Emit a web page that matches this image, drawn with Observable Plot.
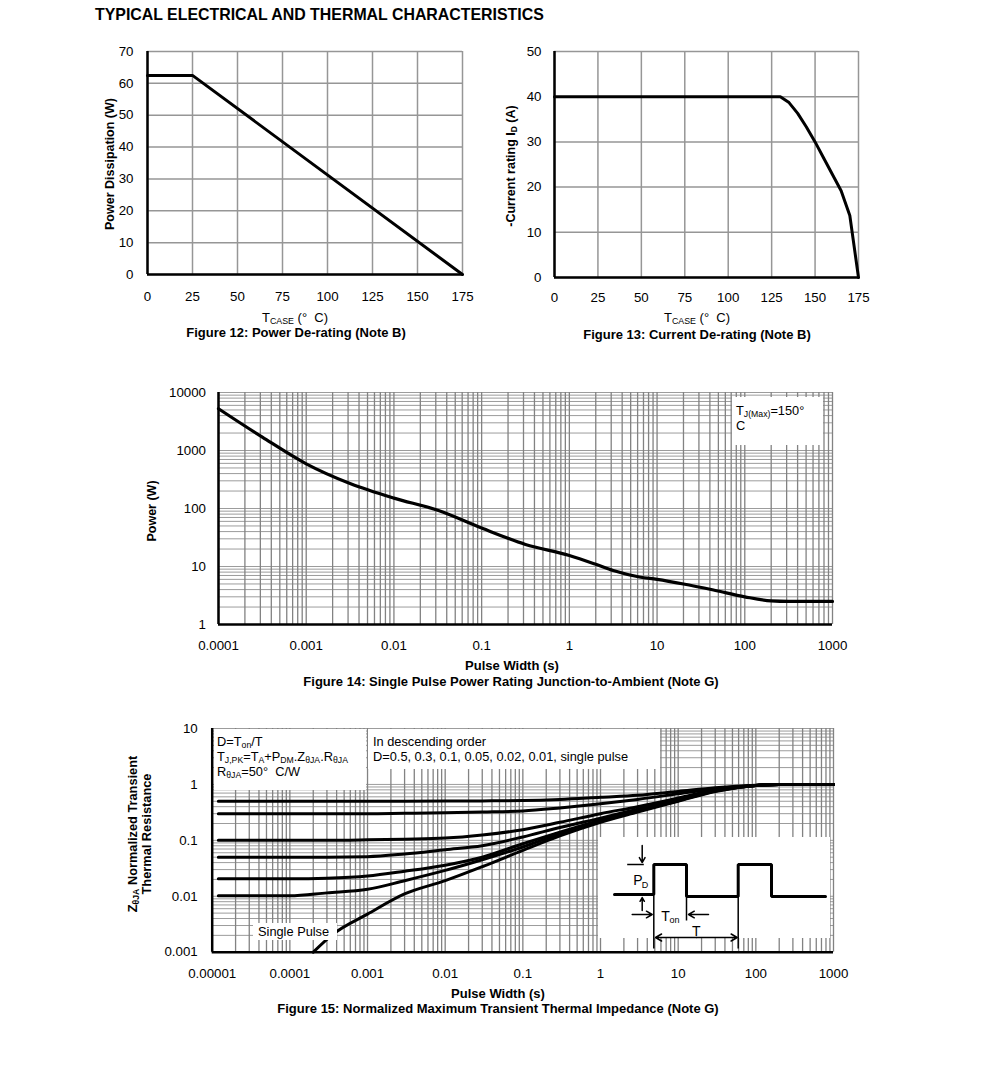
<!DOCTYPE html>
<html><head><meta charset="utf-8">
<script src="https://cdn.jsdelivr.net/npm/d3@7"></script>
<script src="https://cdn.jsdelivr.net/npm/@observablehq/plot@0.6"></script>
<style>
body{margin:0;background:#fff;}
#page{position:relative;width:991px;height:1079px;background:#fff;font-family:"Liberation Sans",Arial,Helvetica,sans-serif;color:#000;overflow:hidden}
.t{position:absolute;white-space:nowrap;line-height:1;font-size:13px}
.b{font-weight:bold}
sub{font-size:0.68em;vertical-align:-0.25em;line-height:0}
.box{position:absolute;background:#fff;font-size:12.8px;line-height:15px;white-space:nowrap;box-sizing:border-box}
</style></head><body><div id="page"></div>
<script>
// ---------------- DATA ----------------
const fig12Temp = [0, 25, 175];
const fig12Power = [62.5, 62.5, 0];
const fig12XTicks = [0, 25, 50, 75, 100, 125, 150, 175];
const fig12YTicks = [0, 10, 20, 30, 40, 50, 60, 70];

const fig13Temp = [0, 130, 135, 140, 145, 150, 155, 160, 165, 170, 175];
const fig13Current = [40, 40, 38.7, 36.3, 33.3, 30, 26.4, 22.8, 19.2, 13.7, 0];
const fig13XTicks = [0, 25, 50, 75, 100, 125, 150, 175];
const fig13YTicks = [0, 10, 20, 30, 40, 50];

const fig14Width = [1e-4, 3.16e-4, 1e-3, 3.16e-3, 0.01, 0.0316, 0.1, 0.316, 1, 2, 3.16, 6.3, 10, 20, 45, 100, 200, 316, 1000];
const fig14Power = [5250, 1700, 590, 270, 151, 93, 46, 24, 15.5, 10.9, 8.5, 6.6, 6.0, 5.0, 3.9, 3.0, 2.55, 2.5, 2.5];
const fig14XTicks = [1e-4, 1e-3, 1e-2, 0.1, 1, 10, 100, 1000];
const fig14XLabels = ["0.0001", "0.001", "0.01", "0.1", "1", "10", "100", "1000"];
const fig14YTicks = [1, 10, 100, 1000, 10000];
const fig14YLabels = ["1", "10", "100", "1000", "10000"];

const fig15Width = [1.2e-5, 1e-4, 3e-4, 1e-3, 3e-3, 0.01, 0.03, 0.1, 0.3, 1, 3, 10, 30, 100, 200, 1000];
const fig15Duty = ["0.5", "0.3", "0.1", "0.05", "0.02", "0.01"];
const fig15D050 = [0.5, 0.5, 0.5, 0.5, 0.5, 0.503, 0.507, 0.515, 0.54, 0.59, 0.64, 0.75, 0.87, 0.97, 1.0, 1.0];
const fig15D030 = [0.3, 0.3, 0.3, 0.3, 0.305, 0.31, 0.32, 0.335, 0.38, 0.45, 0.54, 0.68, 0.84, 0.96, 1.0, 1.0];
const fig15D010 = [0.1, 0.1, 0.1, 0.102, 0.105, 0.11, 0.125, 0.155, 0.21, 0.3, 0.4, 0.57, 0.8, 0.96, 1.0, 1.0];
const fig15D005 = [0.05, 0.05, 0.05, 0.051, 0.057, 0.068, 0.08, 0.115, 0.17, 0.25, 0.36, 0.53, 0.78, 0.96, 1.0, 1.0];
const fig15D002 = [0.0205, 0.0205, 0.021, 0.023, 0.028, 0.036, 0.05, 0.087, 0.14, 0.23, 0.34, 0.52, 0.77, 0.96, 1.0, 1.0];
const fig15D001 = [0.0102, 0.0102, 0.0115, 0.0133, 0.019, 0.029, 0.045, 0.076, 0.13, 0.22, 0.33, 0.51, 0.76, 0.96, 1.0, 1.0];
const fig15SingleWidth = [2e-4, 3.6e-4, 1e-3, 3e-3, 0.01, 0.032, 0.1, 0.3, 1, 3, 10, 30, 100, 200, 1000];
const fig15Single = [0.001, 0.0021, 0.0048, 0.011, 0.019, 0.035, 0.066, 0.12, 0.21, 0.32, 0.5, 0.75, 0.96, 1.0, 1.0];
const fig15XTicks = [1e-5, 1e-4, 1e-3, 1e-2, 0.1, 1, 10, 100, 1000];
const fig15XLabels = ["0.00001", "0.0001", "0.001", "0.01", "0.1", "1", "10", "100", "1000"];
const fig15YTicks = [0.001, 0.01, 0.1, 1, 10];
const fig15YLabels = ["0.001", "0.01", "0.1", "1", "10"];

// inset schematic (pulse train), in box-local units
const insetWave = [[16,57],[55.3,57],[55.3,27],[88,27],[88,59],[139.7,59],[139.7,27],[173,27],[173,59],[227,59]];
const insetThin = [[28.7,27,45.3,27],[55.3,27,55.3,111],[88,59,88,83],[139.7,27,139.7,111]];
const insetArrows = [[43.7,8,43.7,25],[43.7,73,43.7,60],[33.7,77,53.7,77],[110,77,90,77],[98,100,57,100],[98,100,138.7,100]];
const insetBig = [["P",39.5,43],["T",67,79.5],["T",97.7,94]];
const insetSmall = [["D",46.5,47.5],["on",76,83]];

// ---------------- HELPERS ----------------
const FONT = '"Liberation Sans", Arial, Helvetica, sans-serif';
const GRIDV = "#828282", GRIDH = "#9c9c9c", GRID = "#969696";
const TICKFONT = 13.3;
const page = document.getElementById("page");
const baseStyle = {fontFamily: FONT, fontSize: TICKFONT + "px", color: "#000", background: "transparent", overflow: "visible"};

function put(svg, left, top) {
  svg.style.position = "absolute";
  svg.style.left = left + "px";
  svg.style.top = top + "px";
  page.appendChild(svg);
}
function txt(html, x, y, opts = {}) {
  const d = document.createElement("div");
  d.className = "t" + (opts.bold ? " b" : "");
  d.innerHTML = html;
  if (opts.size) d.style.fontSize = opts.size + "px";
  d.style.left = x + "px";
  d.style.top = y + "px";
  const tx = opts.anchor === "start" ? "0" : "-50%";
  d.style.transform = `translate(${tx},-50%)` + (opts.rotate ? " rotate(-90deg)" : "");
  if (opts.rotate) { d.style.textAlign = "center"; d.style.lineHeight = opts.lh || "1"; }
  page.appendChild(d);
}
function box(html, left, top, w, h, padL, padT) {
  const d = document.createElement("div");
  d.className = "box";
  d.innerHTML = html;
  Object.assign(d.style, {left: left + "px", top: top + "px", width: w + "px", height: h + "px", paddingLeft: padL + "px", paddingTop: padT + "px"});
  page.appendChild(d);
}
function logGrid(lo, hi) {
  const out = [];
  for (let e = Math.round(Math.log10(lo)); e < Math.round(Math.log10(hi)); e++)
    for (let m = 1; m < 10; m++) out.push(+(m * Math.pow(10, e)).toPrecision(3));
  out.push(hi);
  return out;
}
const lbl = (ticks, labels) => d => labels[ticks.indexOf(d)];
const axisOpts = {tickSize: 0, label: null, fontSize: TICKFONT};

// ---------------- TITLE ----------------
txt("TYPICAL ELECTRICAL AND THERMAL CHARACTERISTICS", 95, 15, {anchor: "start", bold: true, size: 15.9});

// ---------------- FIGURE 12 ----------------
const fig12Data = fig12Temp.map((t, i) => ({t, p: fig12Power[i]}));
put(Plot.plot({
  width: 400, height: 270, marginLeft: 57, marginRight: 28, marginTop: 11, marginBottom: 36,
  x: {domain: [0, 175]}, y: {domain: [0, 70]}, style: baseStyle,
  marks: [
    Plot.ruleX(fig12XTicks, {stroke: GRID, strokeWidth: 1.5}),
    Plot.ruleY(fig12YTicks, {stroke: GRID, strokeWidth: 1.5}),
    Plot.ruleX([0], {stroke: "#000", strokeWidth: 2.5}),
    Plot.ruleY([0], {stroke: "#000", strokeWidth: 2.5}),
    Plot.line(fig12Data, {x: "t", y: "p", stroke: "#000", strokeWidth: 3}),
    Plot.axisX({...axisOpts, ticks: fig12XTicks, tickPadding: 17}),
    Plot.axisY({...axisOpts, ticks: fig12YTicks, tickPadding: 14})
  ]
}), 90, 40);
txt("Power Dissipation (W)", 110, 164, {bold: true, rotate: true, size: 12.5});
txt("T<sub>CASE</sub> (°&nbsp; C)", 295, 316.5);
txt("Figure 12: Power De-rating (Note B)", 296, 332, {bold: true});

// ---------------- FIGURE 13 ----------------
const fig13Data = fig13Temp.map((t, i) => ({t, c: fig13Current[i]}));
put(Plot.plot({
  width: 400, height: 270, marginLeft: 64, marginRight: 32, marginTop: 11, marginBottom: 33,
  x: {domain: [0, 175]}, y: {domain: [0, 50]}, style: baseStyle,
  marks: [
    Plot.ruleX(fig13XTicks, {stroke: GRID, strokeWidth: 1.5}),
    Plot.ruleY(fig13YTicks, {stroke: GRID, strokeWidth: 1.5}),
    Plot.ruleX([0], {stroke: "#000", strokeWidth: 2.5}),
    Plot.ruleY([0], {stroke: "#000", strokeWidth: 2.5}),
    Plot.line(fig13Data, {x: "t", y: "c", stroke: "#000", strokeWidth: 3}),
    Plot.axisX({...axisOpts, ticks: fig13XTicks, tickPadding: 15.5}),
    Plot.axisY({...axisOpts, ticks: fig13YTicks, tickPadding: 13})
  ]
}), 490, 40);
txt("-Current rating I<sub>D</sub> (A)", 511, 166, {bold: true, rotate: true, size: 12.5});
txt("T<sub>CASE</sub> (°&nbsp; C)", 697, 316.5);
txt("Figure 13: Current De-rating (Note B)", 697, 334, {bold: true});

// ---------------- FIGURE 14 ----------------
const fig14Data = fig14Width.map((w, i) => ({w, p: fig14Power[i]}));
put(Plot.plot({
  width: 720, height: 280, marginLeft: 88, marginRight: 18, marginTop: 12, marginBottom: 36,
  x: {type: "log", domain: [1e-4, 1000]}, y: {type: "log", domain: [1, 10000]}, style: baseStyle,
  marks: [
    Plot.ruleY(logGrid(1, 10000), {stroke: GRIDH, strokeWidth: 1}),
    Plot.ruleX(logGrid(1e-4, 1000), {stroke: GRIDV, strokeWidth: 1.3}),
    Plot.ruleX([1e-4], {stroke: "#000", strokeWidth: 2.5}),
    Plot.ruleY([1], {stroke: "#000", strokeWidth: 2.5}),
    Plot.line(fig14Data, {x: "w", y: "p", stroke: "#000", strokeWidth: 3.2, curve: "monotone-x"}),
    Plot.axisX({...axisOpts, ticks: fig14XTicks, tickFormat: lbl(fig14XTicks, fig14XLabels), tickPadding: 16.5}),
    Plot.axisY({...axisOpts, ticks: fig14YTicks, tickFormat: lbl(fig14YTicks, fig14YLabels), tickPadding: 12.5})
  ]
}), 130, 380);
box("T<sub>J(Max)</sub>=150°<br>C", 732, 397, 91, 48, 4, 6);
txt("Power (W)", 152, 511, {bold: true, rotate: true, size: 12.5});
txt("Pulse Width (s)", 512, 665, {bold: true});
txt("Figure 14: Single Pulse Power Rating Junction-to-Ambient (Note G)", 511, 681, {bold: true});

// ---------------- FIGURE 15 ----------------
const fig15Series = [fig15D050, fig15D030, fig15D010, fig15D005, fig15D002, fig15D001];
const fig15Data = fig15Series.flatMap((s, k) => fig15Width.map((w, i) => ({d: fig15Duty[k], w, z: s[i]})))
  .concat(fig15SingleWidth.map((w, i) => ({d: "single pulse", w, z: fig15Single[i]})));
put(Plot.plot({
  width: 720, height: 270, marginLeft: 81.7, marginRight: 17, marginTop: 13, marginBottom: 33.3,
  x: {type: "log", domain: [1e-5, 1000]}, y: {type: "log", domain: [0.001, 10]}, style: baseStyle,
  marks: [
    Plot.ruleY(logGrid(0.001, 10), {stroke: GRIDH, strokeWidth: 1}),
    Plot.ruleX(logGrid(1e-5, 1000), {stroke: GRIDV, strokeWidth: 1.3}),
    Plot.ruleX([1e-5], {stroke: "#000", strokeWidth: 2.5}),
    Plot.ruleY([0.001], {stroke: "#000", strokeWidth: 2.5}),
    Plot.line(fig15Data, {x: "w", y: "z", z: "d", stroke: "#000", strokeWidth: 3, curve: "monotone-x"}),
    Plot.axisX({...axisOpts, ticks: fig15XTicks, tickFormat: lbl(fig15XTicks, fig15XLabels), tickPadding: 16.5}),
    Plot.axisY({...axisOpts, ticks: fig15YTicks, tickFormat: lbl(fig15YTicks, fig15YLabels), tickPadding: 14.5})
  ]
}), 130, 715);
box("D=T<sub>on</sub>/T<br>T<sub>J,PK</sub>=T<sub>A</sub>+P<sub>DM</sub>.Z<sub>θJA</sub>.R<sub>θJA</sub><br>R<sub>θJA</sub>=50°&nbsp; C/W", 214, 729, 152, 61, 3, 5);
box("In descending order<br>D=0.5, 0.3, 0.1, 0.05, 0.02, 0.01, single pulse", 368, 729, 292, 40, 5, 5);
box("Single Pulse", 253, 923, 84, 17, 5, 1);

const rows = a => a.map(([x1, y1, x2, y2]) => ({x1, y1, x2, y2}));
put(Plot.plot({
  width: 232, height: 111, margin: 0,
  x: {domain: [0, 232], axis: null}, y: {domain: [0, 111], reverse: true, axis: null}, style: baseStyle,
  marks: [
    Plot.rect([{x1: 0, x2: 232, y1: 0, y2: 101}], {x1: "x1", x2: "x2", y1: "y1", y2: "y2", fill: "#fff"}),
    Plot.link(rows(insetThin), {x1: "x1", y1: "y1", x2: "x2", y2: "y2", stroke: "#000", strokeWidth: 1.5}),
    Plot.arrow(rows(insetArrows), {x1: "x1", y1: "y1", x2: "x2", y2: "y2", stroke: "#000", strokeWidth: 1.5, headLength: 7}),
    Plot.line(insetWave, {x: d => d[0], y: d => d[1], stroke: "#000", strokeWidth: 3, strokeLinejoin: "miter"}),
    Plot.text(insetBig, {x: d => d[1], y: d => d[2], text: d => d[0], fontSize: 14, fill: "#000"}),
    Plot.text(insetSmall, {x: d => d[1], y: d => d[2], text: d => d[0], fontSize: 9, fill: "#000"})
  ]
}), 598, 837);

txt("Z<sub>θJA</sub> Normalized Transient<br>Thermal Resistance", 140, 834, {bold: true, rotate: true, lh: "14px", size: 12.8});
txt("Pulse Width (s)", 498, 993, {bold: true});
txt("Figure 15: Normalized Maximum Transient Thermal Impedance (Note G)", 498, 1007.5, {bold: true});
</script></body></html>
